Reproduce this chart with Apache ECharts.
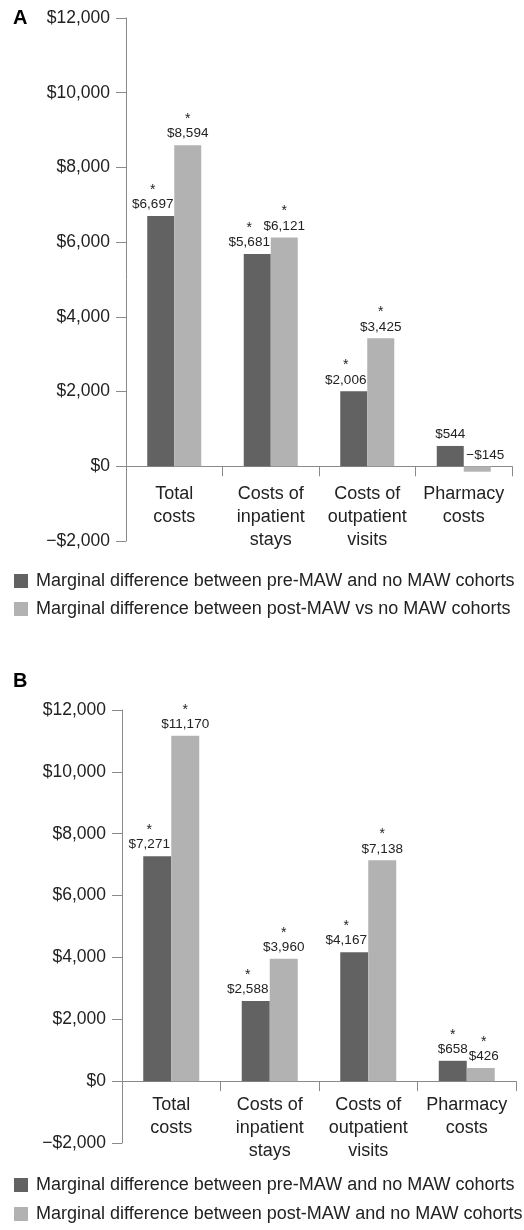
<!DOCTYPE html>
<html>
<head>
<meta charset="utf-8">
<script src="https://cdn.jsdelivr.net/npm/echarts@6/dist/echarts.min.js"></script>
<style>html,body{margin:0;padding:0;background:#fff}#c{width:524px;height:1230px}</style>
</head>
<body>
<div id="c"></div>
<script>
const categories = ['Total\ncosts', 'Costs of\ninpatient\nstays', 'Costs of\noutpatient\nvisits', 'Pharmacy\ncosts'];
const yTicks = [-2000, 0, 2000, 4000, 6000, 8000, 10000, 12000];

const nameDark = 'Marginal difference between pre-MAW and no MAW cohorts';
const nameLightA = 'Marginal difference between post-MAW vs no MAW cohorts';
const nameLightB = 'Marginal difference between post-MAW and no MAW cohorts';

const aPre = [6697, 5681, 2006, 544];
const aPost = [8594, 6121, 3425, -145];
const aPreSig = [true, true, true, false];
const aPostSig = [true, true, true, false];

const bPre = [7271, 2588, 4167, 658];
const bPost = [11170, 3960, 7138, 426];
const bPreSig = [true, true, true, true];
const bPostSig = [true, true, true, true];

const FONT = '"Liberation Sans", Arial, sans-serif';
const DARK = '#626262';
const LIGHT = '#b2b2b2';
const TXT = '#222';
const AXIS = '#8a8a8a';

function money(v) {
  const s = '$' + Math.abs(v).toLocaleString('en-US');
  return v < 0 ? '\u2212' + s : s;
}

function grid(left, right, top, height) {
  return { left: left, right: right, top: top, height: height, containLabel: false };
}

function xAx(i, labelMargin) {
  return {
    type: 'category', gridIndex: i, data: categories,
    axisLine: { onZero: true, lineStyle: { color: AXIS, width: 1 } },
    axisTick: { show: true, length: 10, lineStyle: { color: AXIS } },
    axisLabel: { color: TXT, fontSize: 18, fontFamily: FONT, lineHeight: 23, margin: labelMargin, interval: 0 }
  };
}
function yAx(i) {
  return {
    type: 'value', gridIndex: i, min: yTicks[0], max: yTicks[yTicks.length - 1], interval: 2000,
    splitLine: { show: false },
    axisLine: { show: true, lineStyle: { color: AXIS, width: 1 } },
    axisTick: { show: true, length: 10, lineStyle: { color: AXIS } },
    axisLabel: { color: TXT, fontSize: 17.5, fontFamily: FONT, margin: 16, formatter: money }
  };
}

function makeSeries(name, vals, sig, color, idx, isDark, barW) {
  return {
    type: 'bar', name: name, xAxisIndex: idx, yAxisIndex: idx,
    barWidth: barW, barGap: '0%',
    itemStyle: { color: color },
    data: vals.map((v, k) => {
      const last = k === vals.length - 1;
      let off = [0, 0];
      if (isDark && !last) off = [-8, 0];
      if (!isDark && last) off = v < 0 ? [8, 0] : [3, 0];
      return {
        value: v,
        label: {
          show: true, position: 'top', distance: 4, offset: off,
          formatter: () => (sig[k] ? '{s|*}\n' : '') + '{v|' + money(v) + '}',
          rich: {
            s: { fontSize: 14, lineHeight: 14, color: TXT, fontFamily: FONT },
            v: { fontSize: 13.5, lineHeight: 15, color: TXT, fontFamily: FONT }
          }
        }
      };
    })
  };
}

const chart = echarts.init(document.getElementById('c'), null, { renderer: 'canvas' });
chart.setOption({
  animation: false,
  backgroundColor: '#fff',
  title: [
    { text: 'A', left: 13, top: 8, padding: 0, textStyle: { fontSize: 20, fontWeight: 'bold', color: '#000', fontFamily: FONT } },
    { text: 'B', left: 13, top: 671, padding: 0, textStyle: { fontSize: 20, fontWeight: 'bold', color: '#000', fontFamily: FONT } }
  ],
  legend: [
    {
      orient: 'vertical', left: 14, top: 572, padding: 0, itemGap: 10, itemWidth: 14, itemHeight: 14,
      icon: 'rect', selectedMode: false,
      textStyle: { fontSize: 18, color: TXT, fontFamily: FONT, padding: [0, 0, 0, 3] },
      data: [nameDark, nameLightA]
    },
    {
      orient: 'vertical', left: 14, top: 1176, padding: 0, itemGap: 11, itemWidth: 14, itemHeight: 14,
      icon: 'rect', selectedMode: false,
      textStyle: { fontSize: 18, color: TXT, fontFamily: FONT, padding: [0, 0, 0, 3] },
      data: [nameDark, nameLightB]
    }
  ],
  grid: [grid(126, 12, 18, 523), grid(122, 8, 710, 433)],
  xAxis: [xAx(0, -58), xAx(1, -49)],
  yAxis: [yAx(0), yAx(1)],
  series: [
    makeSeries(nameDark, aPre, aPreSig, DARK, 0, true, 27),
    makeSeries(nameLightA, aPost, aPostSig, LIGHT, 0, false, 27),
    makeSeries(nameDark, bPre, bPreSig, DARK, 1, true, 28),
    makeSeries(nameLightB, bPost, bPostSig, LIGHT, 1, false, 28)
  ]
});
</script>
</body>
</html>
